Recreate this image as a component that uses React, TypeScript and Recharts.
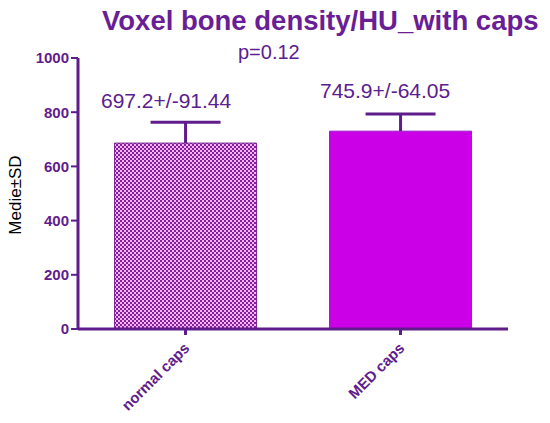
import React from "react";
import { BarChart, Bar, XAxis, YAxis, Cell } from "recharts";

const categories = ["normal caps", "MED caps"];
const means = [686, 730];
const sdUp = [77, 63];
const summaryLabels = ["697.2+/-91.44", "745.9+/-64.05"];
const yTicks = [0, 200, 400, 600, 800, 1000];
const title = "Voxel bone density/HU_with caps";
const pText = "p=0.12";

const data = categories.map((c, i) => ({ name: c, value: means[i], err: sdUp[i] }));

const PURPLE = "#5f1d8c";
const FONT = "Arial, 'Liberation Sans', sans-serif";

const XTick = (props: any) => {
  const { x, y, payload } = props;
  return (
    <g transform={`translate(${x + 5},${y + 12})`}>
      <text textAnchor="end" transform="rotate(-45)" fill={PURPLE} fontSize={15} fontWeight="bold" fontFamily={FONT}>
        {payload.value}
      </text>
    </g>
  );
};

const ErrShape = (props: any) => {
  const { x, y, width, height } = props;
  const cx = x + width / 2;
  return (
    <g>
      <line x1={cx} y1={y + height} x2={cx} y2={y} stroke={PURPLE} strokeWidth={3} />
      <line x1={cx - 35} y1={y} x2={cx + 35} y2={y} stroke={PURPLE} strokeWidth={3} />
    </g>
  );
};

export default function App() {
  return (
    <div style={{ position: "absolute", left: 0, top: 0, width: 550, height: 423, background: "#fff" }}>
      <BarChart width={550} height={423} data={data} margin={{ top: 58, right: 42, bottom: 0, left: 0 }} barCategoryGap="17%">
        <defs>
          <pattern id="checker" width="4" height="4" patternUnits="userSpaceOnUse">
            <rect width="4" height="4" fill="#f4b4f4" />
            <rect width="2" height="2" fill="#84209a" />
            <rect x="2" y="2" width="2" height="2" fill="#84209a" />
          </pattern>
        </defs>
        <XAxis
          dataKey="name"
          height={94}
          axisLine={{ stroke: PURPLE, strokeWidth: 3 }}
          tickLine={{ stroke: PURPLE, strokeWidth: 3 }}
          tickSize={6}
          tick={<XTick />}
          interval={0}
        />
        <YAxis
          width={78}
          domain={[0, 1000]}
          ticks={yTicks}
          allowDataOverflow
          axisLine={{ stroke: PURPLE, strokeWidth: 3 }}
          tickLine={{ stroke: PURPLE, strokeWidth: 2 }}
          tickSize={7}
          tick={{ fill: PURPLE, fontSize: 15, fontWeight: "bold", fontFamily: FONT }}
        />
        <Bar dataKey="value" stackId="s" isAnimationActive={false} strokeWidth={1}>
          <Cell fill="url(#checker)" stroke="#7a2296" />
          <Cell fill="#cc00e6" stroke="#9a18c8" />
        </Bar>
        <Bar dataKey="err" stackId="s" isAnimationActive={false} shape={<ErrShape />} />
      </BarChart>
      <div style={{ position: "absolute", left: 102, top: 6, color: "#6a1e96", fontFamily: FONT, fontWeight: "bold", fontSize: 27.5, whiteSpace: "nowrap", lineHeight: "30px" }}>
        {title}
      </div>
      <div style={{ position: "absolute", left: 238, top: 40, color: "#5a2090", fontFamily: FONT, fontSize: 20, lineHeight: "24px" }}>
        {pText}
      </div>
      <div style={{ position: "absolute", left: 101, top: 88, color: "#5a2090", fontFamily: FONT, fontSize: 21, lineHeight: "26px" }}>
        {summaryLabels[0]}
      </div>
      <div style={{ position: "absolute", left: 320, top: 78, color: "#5a2090", fontFamily: FONT, fontSize: 21, lineHeight: "26px" }}>
        {summaryLabels[1]}
      </div>
      <div style={{ position: "absolute", left: 16, top: 195, transform: "translate(-50%,-50%) rotate(-90deg)", color: "#000", fontFamily: FONT, fontSize: 17, whiteSpace: "nowrap" }}>
        Medie±SD
      </div>
    </div>
  );
}
